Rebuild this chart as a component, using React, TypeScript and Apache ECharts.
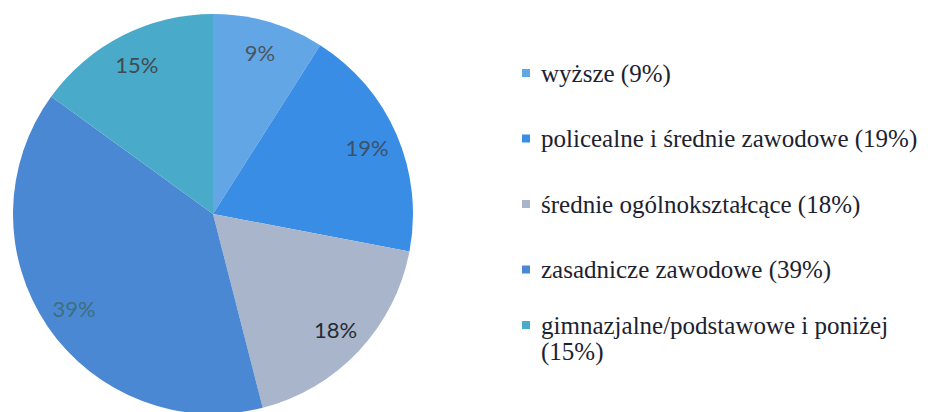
import React, { useEffect, useRef } from "react";
import * as echarts from "echarts";

const categories = [
  "wyższe",
  "policealne i średnie zawodowe",
  "średnie ogólnokształcące",
  "zasadnicze zawodowe",
  "gimnazjalne/podstawowe i poniżej",
];
const shares = [9, 19, 18, 39, 15];
const sliceColors = ["#62a6e6", "#3a8de4", "#a9b5cb", "#4a88d3", "#4aaac9"];
const labelColors = ["#4b5560", "#3c5166", "#262b33", "#3f6f80", "#3f4a52"];

export default function App() {
  const ref = useRef<HTMLDivElement>(null);
  useEffect(() => {
    if (!ref.current) return;
    const chart = echarts.init(ref.current, undefined, { renderer: "svg" });
    const pct = (name: string) => shares[categories.indexOf(name)];
    const mainData = categories.map((n, i) => ({
      name: n,
      value: shares[i],
      itemStyle: { color: sliceColors[i] },
    }));
    const labelData = categories.map((n, i) => ({
      name: n,
      value: shares[i],
      label: { color: labelColors[i] },
    }));
    const legendText = {
      fontFamily: "'Liberation Serif', 'Times New Roman', serif",
      fontSize: 25,
      lineHeight: 26,
      color: "#1c2230",
      padding: [0, 0, 0, 6],
    };
    chart.setOption({
      animation: false,
      backgroundColor: "#ffffff",
      legend: [
        {
          orient: "vertical",
          left: 522,
          top: 60,
          padding: 0,
          itemWidth: 8,
          itemHeight: 8,
          itemGap: 39.5,
          icon: "rect",
          selectedMode: false,
          data: categories.slice(0, 4),
          formatter: (name: string) => `${name} (${pct(name)}%)`,
          textStyle: legendText,
        },
        {
          orient: "vertical",
          left: 522,
          top: 286,
          padding: 0,
          itemWidth: 8,
          itemHeight: 8,
          icon: "rect",
          selectedMode: false,
          data: categories.slice(4),
          formatter: (name: string) => `\n${name}\n(${pct(name)}%)`,
          textStyle: legendText,
        },
      ],
      series: [
        {
          type: "pie",
          center: [213, 214],
          radius: [0, 200],
          startAngle: 90,
          clockwise: true,
          silent: true,
          label: { show: false },
          labelLine: { show: false },
          data: mainData,
        },
        {
          type: "pie",
          center: [213, 214],
          radius: [130, 200],
          startAngle: 90,
          clockwise: true,
          silent: true,
          legendHoverLink: false,
          itemStyle: { color: "rgba(0,0,0,0)" },
          label: {
            show: true,
            position: "inside",
            formatter: (p: any) => `${p.value}%`,
            fontFamily: "Lato",
            fontSize: 22,
          },
          labelLine: { show: false },
          data: labelData,
        },
      ],
    });
    return () => chart.dispose();
  }, []);
  return (
    <div
      ref={ref}
      style={{ position: "fixed", left: 0, top: 0, width: 928, height: 412 }}
    />
  );
}
